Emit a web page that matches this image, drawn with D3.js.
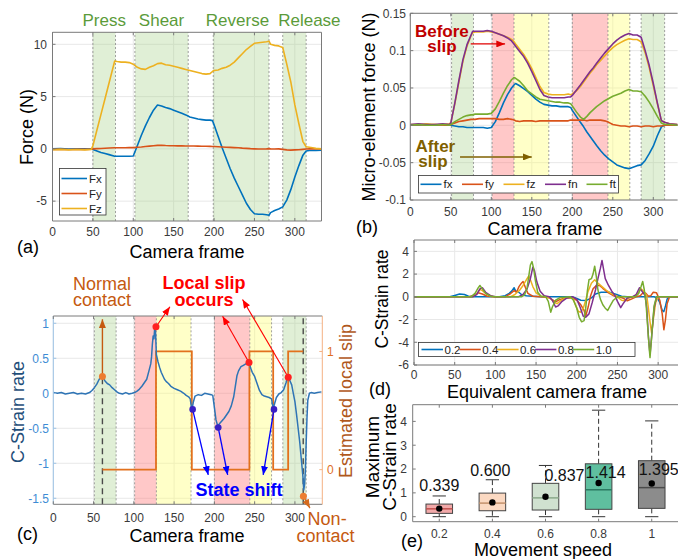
<!DOCTYPE html>
<html><head><meta charset="utf-8">
<script src="https://cdn.jsdelivr.net/npm/d3@7"></script>
<style>body{margin:0;background:#fff;}svg{display:block;}</style>
</head><body>
<script>
// ================= DATA =================
// (a) force sensor
const phaseLabels = ["Press","Shear","Reverse","Release"];
const phaseLabelFrames = [64,135,229,318];
const aBands = [[50,78],[102,168],[199,268],[285,314]];
const aFrames = [0,10,20,30,40,48,50,55,60,65,70,77,80,85,90,95,100,105,110,115,120,125,130,135,140,145,150,155,160,165,170,175,180,185,190,195,198,200,205,210,215,220,225,230,235,240,245,250,255,260,265,268,270,275,280,285,290,295,300,305,310,314,318,322,326,333];
const aFx = [0,0.02,-0.02,0,0.01,0,-0.05,-0.2,-0.35,-0.45,-0.55,-0.7,-0.7,-0.7,-0.7,-0.7,-0.68,0.3,1.3,2.2,3.0,3.7,4.2,4.1,3.95,3.85,3.7,3.55,3.4,3.25,3.05,2.95,2.85,2.8,2.75,2.75,2.7,2.3,1.2,0.1,-0.9,-1.9,-2.8,-3.6,-4.4,-5.2,-5.8,-6.2,-6.25,-6.25,-6.3,-6.35,-6.1,-5.9,-5.75,-5.55,-4.9,-3.9,-2.7,-1.6,-0.6,-0.2,-0.15,-0.15,-0.15,-0.12];
const aFy = [-0.05,-0.03,-0.06,-0.04,-0.05,-0.03,0,0.02,0.04,0.06,0.08,0.1,0.1,0.1,0.11,0.12,0.12,0.15,0.18,0.22,0.26,0.3,0.33,0.35,0.32,0.3,0.3,0.29,0.3,0.28,0.28,0.27,0.26,0.25,0.25,0.24,0.22,0.22,0.2,0.18,0.16,0.14,0.12,0.1,0.07,0.05,0.02,0,-0.02,-0.02,0,0.02,0,-0.02,0,-0.05,-0.1,-0.12,-0.1,-0.08,-0.05,-0.02,0,0,0,0];
const aFz = [-0.08,-0.05,-0.1,-0.06,-0.1,-0.05,0.3,1.8,3.3,4.8,6.3,8.4,8.35,8.3,8.3,8.25,8.1,7.8,7.65,7.6,7.8,7.95,8.15,8.2,8.05,8.0,7.9,7.8,7.7,7.6,7.5,7.4,7.3,7.2,7.15,7.2,7.4,7.5,7.55,7.7,7.8,8.0,8.3,8.7,9.1,9.5,9.8,10.1,10.15,10.2,10.25,10.3,10.0,9.9,9.85,9.7,8.1,6.4,4.2,2.4,0.7,0.2,0.15,0.1,0.05,0.0];

// contact-state bands shared by (b) and (c)
const stateBands = [[51,78,"press"],[101,128,"slip"],[128,171,"stick"],[200,244,"slip"],[244,271,"stick"],[285,314,"press"]];

// (b) micro-element force
const bFrames = [0,10,20,30,40,48,50,55,60,65,70,75,77,80,85,90,95,100,105,110,115,120,125,128,130,135,140,145,150,155,160,165,170,175,180,185,190,195,198,200,205,210,214,218,222,226,230,235,240,245,250,255,260,265,270,275,280,285,290,295,300,305,310,314,320,330];
const bFx = [0,0,0.001,0,0,0,0,-0.001,-0.002,-0.002,-0.003,-0.003,-0.003,-0.003,-0.003,-0.003,-0.004,-0.003,0.005,0.017,0.03,0.041,0.05,0.054,0.056,0.053,0.049,0.045,0.04,0.035,0.031,0.028,0.027,0.026,0.026,0.025,0.025,0.025,0.024,0.02,0.012,0.004,-0.002,-0.009,-0.015,-0.021,-0.027,-0.034,-0.04,-0.045,-0.049,-0.053,-0.055,-0.057,-0.058,-0.056,-0.054,-0.053,-0.047,-0.038,-0.028,-0.014,-0.002,0,0,0];
const bFy = [0,0.001,0,0.001,0,0,0.001,0.003,0.005,0.006,0.007,0.008,0.008,0.008,0.009,0.009,0.009,0.009,0.009,0.008,0.008,0.009,0.008,0.007,0.006,0.005,0.006,0.006,0.006,0.005,0.006,0.006,0.006,0.006,0.006,0.006,0.006,0.006,0.007,0.007,0.007,0.007,0.007,0.006,0.007,0.007,0.007,0.007,0.006,0.004,0.001,0,-0.001,-0.001,-0.002,-0.001,-0.001,-0.002,-0.001,-0.001,-0.002,-0.001,-0.001,0,0,0];
const bFz = [0.001,0.001,0.002,0.001,0.001,0.002,0.003,0.029,0.058,0.086,0.106,0.12,0.124,0.125,0.125,0.125,0.126,0.125,0.124,0.122,0.12,0.118,0.115,0.112,0.109,0.102,0.095,0.086,0.076,0.064,0.052,0.044,0.042,0.041,0.041,0.041,0.041,0.042,0.041,0.042,0.046,0.052,0.058,0.064,0.07,0.075,0.081,0.087,0.093,0.099,0.104,0.108,0.111,0.114,0.116,0.115,0.115,0.112,0.097,0.077,0.053,0.029,0.006,0.004,0.002,0.001];
const bFn = [0.001,0.002,0.001,0.001,0.002,0.001,0.003,0.03,0.06,0.088,0.108,0.121,0.126,0.126,0.126,0.126,0.127,0.126,0.124,0.122,0.12,0.117,0.113,0.109,0.106,0.099,0.092,0.083,0.072,0.06,0.048,0.04,0.038,0.037,0.037,0.037,0.037,0.038,0.038,0.04,0.047,0.054,0.06,0.066,0.072,0.077,0.083,0.09,0.097,0.103,0.109,0.114,0.118,0.121,0.123,0.121,0.121,0.118,0.1,0.08,0.056,0.03,0.006,0.004,0.002,0.001];
const bFt = [0,0.001,0,0,0.001,0,0.001,0.005,0.008,0.011,0.013,0.014,0.014,0.015,0.015,0.015,0.015,0.016,0.022,0.032,0.043,0.053,0.061,0.064,0.063,0.059,0.053,0.046,0.042,0.038,0.035,0.034,0.033,0.032,0.031,0.031,0.03,0.03,0.029,0.026,0.018,0.011,0.008,0.012,0.017,0.021,0.025,0.029,0.033,0.036,0.039,0.041,0.043,0.046,0.048,0.046,0.046,0.045,0.039,0.031,0.022,0.012,0.003,0.001,0.001,0];
const bSeriesNames = ["fx","fy","fz","fn","ft"];

// (c) C-strain rate and estimated slip
const cFrames = [0,5,10,15,20,25,30,35,40,45,48,51,54,57,60,62,64,67,70,73,76,79,82,86,90,94,98,101,104,107,110,113,116,119,121,122,123,124,125,126,127,128,130,132,134,136,138,140,143,146,150,154,158,162,165,168,170,172,174,176,180,184,188,192,196,198,200,202,204,206,209,212,215,218,221,224,226,228,230,233,236,239,241,243,245,247,250,253,256,259,262,265,268,271,273,275,277,280,283,286,289,291,293,296,298,300,302,304,306,308,310,311,312,313,314,315,316,318,320,324,328,333];
const cRate = [0.01,0.0,0.01,-0.01,0.0,0.01,-0.01,0.0,-0.01,0.01,0.04,0.08,0.13,0.2,0.24,0.22,0.18,0.14,0.12,0.08,0.05,0.02,0.0,-0.01,0.01,-0.01,0.0,0.01,0.03,0.06,0.1,0.15,0.2,0.33,0.42,0.52,0.7,0.82,0.78,0.95,0.85,0.55,0.45,0.37,0.3,0.25,0.2,0.17,0.14,0.1,0.07,0.05,0.03,0.0,-0.03,-0.05,-0.08,-0.24,-0.12,-0.04,-0.02,-0.03,0.0,-0.01,-0.02,-0.03,-0.2,-0.38,-0.46,-0.44,-0.4,-0.36,-0.31,-0.26,-0.18,-0.05,0.1,0.25,0.32,0.38,0.4,0.42,0.44,0.45,0.36,0.3,0.24,0.14,0.04,-0.02,-0.04,-0.05,-0.06,-0.08,-0.22,-0.14,-0.06,-0.01,0.01,0.05,0.15,0.24,0.2,0.12,0.0,-0.12,-0.3,-0.5,-0.7,-0.95,-1.2,-1.38,-1.3,-1.1,-0.7,-0.35,-0.1,0.0,0.01,0.0,0.01,0.02];
const cSlipFrames = [61,127.5,172,243.5,273,291.6,310.3];
const cSlip = [0,1,0,1,0,1,1];
const cNormalContact = [61,0.238];
const cNonContact = [310.5,-1.47];
const cSlipOnset = [[127.5,0.95],[243,0.44],[291.7,0.23]];
const cStateShift = [[173,-0.23],[204.8,-0.49],[274,-0.23]];

// (d) C-strain rate for five speeds  [frame, value]
const dSpeeds = ["0.2","0.4","0.6","0.8","1.0"];
const d02 = [[0,0],[44,0],[50,0.12],[56,0.25],[62,0.2],[67,0.05],[72,0],[105,0],[112,0.1],[117,0.3],[120,0.5],[123,0.8],[125,0.5],[128,0.45],[132,0.2],[138,0.1],[146,0.05],[155,0],[195,0],[200,-0.15],[205,-0.3],[212,-0.32],[218,-0.1],[223,0.25],[230,0.4],[240,0.4],[247,0.25],[255,0.05],[262,0],[295,0],[299,-0.1],[302,-0.5],[305,-1.2],[307,-1.3],[309,-0.8],[311,-0.2],[314,0],[325,0]];
const d04 = [[0,0],[68,0],[74,0.15],[79,0.35],[84,0.25],[90,0.05],[98,0],[112,0],[118,0.25],[123,0.55],[126,0.4],[129,0.9],[132,1.2],[134,1.35],[137,0.8],[140,0.3],[146,0.05],[155,0],[165,-0.05],[170,-0.25],[174,-0.45],[179,-0.25],[186,-0.1],[195,-0.1],[200,-0.3],[205,-0.7],[209,-1.2],[211,-1.7],[214,-0.9],[217,0.1],[220,0.7],[224,1.0],[228,1.0],[232,0.75],[238,0.4],[245,0.1],[252,0],[258,-0.15],[262,-0.35],[267,-0.2],[273,0],[278,0.1],[282,0.4],[285,0.3],[288,0.05],[291,0.1],[294,0.4],[298,0.35],[302,-0.3],[305,-1.5],[307,-2.9],[309,-2.0],[311,-0.6],[314,0],[325,0]];
const d06 = [[0,0],[72,0],[77,0.25],[81,0.65],[84,0.55],[90,0.2],[97,0],[118,0],[124,0.2],[130,0.6],[134,1.0],[138,1.5],[141,1.85],[143,1.5],[146,0.9],[150,0.35],[156,0.05],[162,0],[168,-0.15],[172,-0.5],[176,-0.6],[181,-0.3],[188,-0.05],[195,-0.1],[199,-0.8],[202,-1.3],[205,-1.35],[208,-1.0],[211,-0.3],[214,0.5],[218,1.2],[222,1.5],[226,1.2],[231,0.9],[236,0.6],[242,0.3],[248,0.1],[255,-0.3],[259,-0.35],[264,-0.1],[270,0],[275,0.3],[279,0.7],[282,0.5],[286,0.1],[288,-1.0],[290,-2.2],[292,-3.2],[294,-2.0],[297,-0.5],[300,0],[325,0]];
const d08 = [[0,0],[72,0],[77,0.2],[81,0.7],[84,0.8],[88,0.4],[94,0.1],[100,0],[128,0],[134,0.2],[139,0.7],[143,1.6],[146,2.6],[148,2.3],[151,1.3],[155,0.5],[160,0.1],[166,0],[170,-0.3],[174,-0.9],[177,-0.8],[182,-0.4],[188,-0.1],[195,0],[200,-0.2],[204,-0.9],[208,-1.7],[211,-1.8],[215,-1.5],[219,-0.5],[223,0.6],[226,1.6],[229,2.5],[231,3.2],[233,2.4],[235,1.6],[239,1.0],[243,0.5],[247,0.1],[250,-0.4],[254,-0.95],[257,-0.6],[262,-0.1],[268,0],[273,0.2],[277,0.8],[280,0.5],[284,0.1],[286,-1.0],[288,-3.5],[290,-5.1],[292,-3.5],[295,-1.0],[298,0],[325,0]];
const d10 = [[0,0],[70,0],[75,0.3],[79,0.8],[81,1.0],[84,0.7],[88,0.3],[94,0.05],[100,0],[132,0],[136,0.2],[139,0.8],[141,1.8],[143,2.8],[145,3.1],[147,2.5],[149,1.5],[152,0.4],[156,0.05],[162,0],[165,-0.4],[168,-1.35],[170,-0.9],[174,-0.3],[180,-0.05],[192,0],[196,-0.3],[200,-1.0],[203,-1.8],[206,-2.2],[209,-2.1],[211,-1.0],[213,0.5],[215,1.5],[218,1.6],[220,2.0],[222,2.7],[224,1.8],[226,0.6],[229,-0.2],[232,-0.7],[235,-1.0],[238,-1.2],[241,-0.8],[245,-0.3],[250,0],[272,0],[276,0.3],[279,0.9],[281,1.35],[283,0.6],[285,-0.5],[287,-2.5],[289,-4.5],[290,-5.35],[292,-3.5],[295,-0.8],[298,0],[325,0]];

// (e) maximum C-strain rate vs movement speed
const eSpeeds = ["0.2","0.4","0.6","0.8","1"];
const eMin  = [0,0,0,0,0];
const eQ1   = [0.14,0.25,0.28,0.31,0.35];
const eMed  = [0.33,0.57,0.79,1.13,1.22];
const eQ3   = [0.53,0.99,1.40,2.22,2.35];
const eMax  = [0.87,1.55,2.15,4.47,4.02];
const eMean = [0.339,0.600,0.837,1.414,1.395];

// ================= DRAWING =================
const FONT = '"Liberation Sans", Arial, Helvetica, sans-serif';
const svg = d3.select("body").append("svg").attr("width",678).attr("height",559)
  .style("font-family",FONT);
const defs = svg.append("defs");
const TICKC = "#3a3a3a", BOXC = "#7a7a7a", GRIDC = "#e8e8e8";
const bandFill = {press:"rgba(160,205,130,0.33)", slip:"rgba(255,110,110,0.38)", stick:"rgba(255,255,110,0.38)"};

function marker(id,color){
  defs.append("marker").attr("id",id).attr("viewBox","0 0 10 8").attr("refX",10).attr("refY",4)
    .attr("markerUnits","userSpaceOnUse").attr("markerWidth",9).attr("markerHeight",7).attr("orient","auto")
    .append("path").attr("d","M0,0L10,4L0,8z").attr("fill",color);
}
marker("mRed","#ff0000"); marker("mBlue","#0000ff"); marker("mOr","#c55a11");
marker("mDR","#e00000"); marker("mOl","#7f6000"); marker("mOr2","#d46a1c");

function clip(id,x,y){
  defs.append("clipPath").attr("id",id).append("rect")
    .attr("x",x.range()[0]).attr("y",y.range()[1])
    .attr("width",x.range()[1]-x.range()[0]).attr("height",y.range()[0]-y.range()[1]);
}
function grid(g,x,y,xt,yt){
  const [xl,xr]=x.range(),[yb,yt0]=y.range();
  g.selectAll(null).data(xt).join("line").attr("x1",d=>x(d)).attr("x2",d=>x(d)).attr("y1",yb).attr("y2",yt0)
    .attr("stroke",GRIDC).attr("stroke-width",1);
  g.selectAll(null).data(yt).join("line").attr("y1",d=>y(d)).attr("y2",d=>y(d)).attr("x1",xl).attr("x2",xr)
    .attr("stroke",GRIDC).attr("stroke-width",1);
}
function bands(g,x,y,list,fillFn){
  const [yb,yt]=y.range();
  list.forEach(b=>{
    g.append("rect").attr("x",x(b[0])).attr("y",yt).attr("width",x(b[1])-x(b[0])).attr("height",yb-yt)
      .attr("fill",fillFn(b));
  });
  const edges = Array.from(new Set(list.flatMap(b=>[b[0],b[1]])));
  g.selectAll(null).data(edges).join("line").attr("x1",d=>x(d)).attr("x2",d=>x(d)).attr("y1",yb).attr("y2",yt)
    .attr("stroke","#8a8a8a").attr("stroke-width",0.8).attr("stroke-dasharray","2,2");
}
function series(g,x,y,fr,vals,color,w,clipId){
  const pts = fr.map((f,i)=>[f,vals[i]]);
  return g.append("path").datum(pts).attr("d",d3.line().x(d=>x(d[0])).y(d=>y(d[1])))
    .attr("fill","none").attr("stroke",color).attr("stroke-width",w).attr("stroke-linejoin","round")
    .attr("clip-path",clipId?`url(#${clipId})`:null);
}
function pairSeries(g,x,y,pts,color,w,clipId){
  return g.append("path").datum(pts).attr("d",d3.line().x(d=>x(d[0])).y(d=>y(d[1])))
    .attr("fill","none").attr("stroke",color).attr("stroke-width",w).attr("stroke-linejoin","round")
    .attr("clip-path",clipId?`url(#${clipId})`:null);
}
function boxFrame(g,x,y,opt){
  opt = opt||{};
  const [xl,xr]=x.range(),[yb,yt]=y.range();
  g.append("line").attr("x1",xl).attr("x2",xr).attr("y1",yb).attr("y2",yb).attr("stroke",opt.bottom||BOXC);
  g.append("line").attr("x1",xl).attr("x2",xr).attr("y1",yt).attr("y2",yt).attr("stroke",opt.top||BOXC);
  g.append("line").attr("x1",xl).attr("x2",xl).attr("y1",yb).attr("y2",yt).attr("stroke",opt.left||BOXC);
  if(!opt.noRight) g.append("line").attr("x1",xr).attr("x2",xr).attr("y1",yb).attr("y2",yt).attr("stroke",opt.right||BOXC);
}
function xTickMarks(g,x,y,ticks,color){
  const [yb,yt]=y.range();
  g.selectAll(null).data(ticks).join("line").attr("x1",d=>x(d)).attr("x2",d=>x(d)).attr("y1",yb).attr("y2",yb-3).attr("stroke",color||BOXC);
  g.selectAll(null).data(ticks).join("line").attr("x1",d=>x(d)).attr("x2",d=>x(d)).attr("y1",yt).attr("y2",yt+3).attr("stroke",color||BOXC);
}
function yTickMarks(g,x,y,ticks,color,side){
  const xl = side==="right"? x.range()[1] : x.range()[0];
  const s = side==="right"? -3 : 3;
  g.selectAll(null).data(ticks).join("line").attr("y1",d=>y(d)).attr("y2",d=>y(d)).attr("x1",xl).attr("x2",xl+s).attr("stroke",color||BOXC);
}
function xTickLabels(g,x,ticks,yBase,fmt,color,size){
  g.selectAll(null).data(ticks).join("text").attr("x",d=>x(d)).attr("y",yBase).attr("text-anchor","middle")
    .attr("font-size",size||12).attr("fill",color||TICKC).text(d=>fmt?fmt(d):d);
}
function yTickLabels(g,y,ticks,xPos,fmt,color,anchor,size){
  g.selectAll(null).data(ticks).join("text").attr("x",xPos).attr("y",d=>y(d)).attr("dy","0.36em")
    .attr("text-anchor",anchor||"end").attr("font-size",size||12).attr("fill",color||TICKC).text(d=>fmt?fmt(d):d);
}
function text(g,x,y,t,size,color,anchor,weight){
  return g.append("text").attr("x",x).attr("y",y).attr("font-size",size).attr("fill",color||"#000")
    .attr("text-anchor",anchor||"middle").attr("font-weight",weight||"normal").text(t);
}
// two-line label as one text element
function text2(g,lines,size,color,weight){
  const t = g.append("text").attr("font-size",size).attr("fill",color).attr("text-anchor","middle")
    .attr("font-weight",weight||"normal");
  lines.forEach(l=>t.append("tspan").attr("x",l[0]).attr("y",l[1]).text(l[2]));
  return t;
}
function rotText(g,x,y,t,size,color){
  return g.append("text").attr("transform",`translate(${x},${y}) rotate(-90)`).attr("text-anchor","middle")
    .attr("font-size",size).attr("fill",color||"#000").text(t);
}
function arrow(g,x1,y1,x2,y2,color,mk,w){
  g.append("line").attr("x1",x1).attr("y1",y1).attr("x2",x2).attr("y2",y2).attr("stroke",color)
    .attr("stroke-width",w||1.2).attr("marker-end",`url(#${mk})`);
}
const fr50 = [0,50,100,150,200,250,300];
const numFmt = d => String(+d.toFixed(3));

// ---------- (a) ----------
{
  const x = d3.scaleLinear([0,333],[52.5,321.5]);
  const y = d3.scaleLinear([-6.9,11.15],[221,32.3]);
  const g = svg.append("g"); clip("clipA",x,y);
  grid(g,x,y,fr50,[-5,0,5,10]);
  bands(g,x,y,aBands,()=>bandFill.press);
  series(g,x,y,aFrames,aFx,"#0072BD",1.6,"clipA");
  series(g,x,y,aFrames,aFy,"#D95319",1.6,"clipA");
  series(g,x,y,aFrames,aFz,"#EDB120",1.6,"clipA");
  boxFrame(g,x,y);
  xTickMarks(g,x,y,fr50); yTickMarks(g,x,y,[-5,0,5,10]);
  xTickLabels(g,x,fr50,236);
  yTickLabels(g,y,[-5,0,5,10],47);
  text(g,187,258,"Camera frame",18);
  rotText(g,33,127,"Force (N)",18);
  text(g,17,253,"(a)",18,"#000","start");
  phaseLabels.forEach((p,i)=>text(g,x(phaseLabelFrames[i]),26,p,17,"#5b9b3a"));
  const L = g.append("g");
  L.append("rect").attr("x",59.5).attr("y",168.5).attr("width",46.5).attr("height",46.5).attr("fill","#fff").attr("stroke","#333").attr("stroke-width",0.8);
  [["Fx","#0072BD"],["Fy","#D95319"],["Fz","#EDB120"]].forEach((d,i)=>{
    const yy = 178.5 + i*15;
    L.append("line").attr("x1",61.5).attr("x2",87).attr("y1",yy).attr("y2",yy).attr("stroke",d[1]).attr("stroke-width",1.6);
    text(L,89,yy+4,d[0],11.5,"#222","start");
  });
}

// ---------- (b) ----------
{
  const x = d3.scaleLinear([0,330],[410.3,677.6]);
  const y = d3.scaleLinear([-0.1,0.15],[200,13.3]);
  const g = svg.append("g"); clip("clipB",x,y);
  const yt = [-0.1,-0.05,0,0.05,0.1,0.15];
  grid(g,x,y,fr50,yt);
  bands(g,x,y,stateBands,b=>bandFill[b[2]]);
  const cols = ["#0072BD","#D95319","#EDB120","#7E2F8E","#77AC30"];
  [bFx,bFy,bFz,bFn,bFt].forEach((s,i)=>series(g,x,y,bFrames,s,cols[i],1.6,"clipB"));
  boxFrame(g,x,y,{noRight:true});
  xTickMarks(g,x,y,fr50); yTickMarks(g,x,y,yt);
  xTickLabels(g,x,fr50,216);
  yTickLabels(g,y,yt,406,numFmt);
  text(g,545,235,"Camera frame",18);
  rotText(g,375,107,"Micro-element force (N)",18);
  text(g,356,233,"(b)",18,"#000","start");
  text2(g,[[x(39),y(0.1185),"Before"],[x(39),y(0.0985),"slip"]],17,"#c00000","bold");
  arrow(g,x(74.6),y(0.109),x(117),y(0.109),"#e00000","mDR",1.3);
  text2(g,[[x(31),y(-0.0355),"After"],[x(28),y(-0.0555),"slip"]],17,"#7f6000","bold");
  arrow(g,x(61.4),y(-0.0424),x(149.9),y(-0.0424),"#7f6000","mOl",1.3);
  const L = g.append("g");
  L.append("rect").attr("x",418.5).attr("y",175.5).attr("width",200).attr("height",17.5).attr("fill","#fff").attr("stroke","#333").attr("stroke-width",0.8);
  bSeriesNames.forEach((n,i)=>{
    const x0 = 420.5 + i*41.5, yy = 184.3;
    L.append("line").attr("x1",x0).attr("x2",x0+21).attr("y1",yy).attr("y2",yy).attr("stroke",cols[i]).attr("stroke-width",1.6);
    text(L,x0+23,yy+4,n,11.5,"#222","start");
  });
}

// ---------- (c) ----------
{
  const x = d3.scaleLinear([0,334],[53.3,322.3]);
  const y = d3.scaleLinear([-1.586,1.104],[504.3,316]);
  const yr = d3.scaleLinear([-0.293,1.30],[504.3,316]);
  const g = svg.append("g"); clip("clipC",x,y);
  const yt = [-1.5,-1,-0.5,0,0.5,1];
  grid(g,x,y,fr50,yt);
  bands(g,x,y,stateBands,b=>bandFill[b[2]]);
  g.append("line").attr("x1",x(cNormalContact[0])).attr("x2",x(cNormalContact[0])).attr("y1",y(-1.586)).attr("y2",y(cNormalContact[1]))
    .attr("stroke","#4a4a4a").attr("stroke-width",1.4).attr("stroke-dasharray","6,4");
  g.append("line").attr("x1",x(cSlipFrames[cSlipFrames.length-1])).attr("x2",x(cSlipFrames[cSlipFrames.length-1])).attr("y1",y(-1.586)).attr("y2",y(1.104))
    .attr("stroke","#4a4a4a").attr("stroke-width",1.4).attr("stroke-dasharray","6,4");
  g.append("path").datum(cSlipFrames.map((f,i)=>[f,cSlip[i]]))
    .attr("d",d3.line().curve(d3.curveStepAfter).x(d=>x(d[0])).y(d=>yr(d[1])))
    .attr("fill","none").attr("stroke","#e2711d").attr("stroke-width",1.8);
  series(g,x,y,cFrames,cRate,"#2e74b5",1.5,"clipC");
  boxFrame(g,x,y,{left:"#9dc3e6",right:"#f4b183"});
  xTickMarks(g,x,y,fr50);
  yTickMarks(g,x,y,yt,"#9dc3e6");
  yTickMarks(g,x,yr,[0,1],"#f4b183","right");
  xTickLabels(g,x,fr50,522);
  yTickLabels(g,y,yt,49,null,"#3d8bd4");
  yTickLabels(g,yr,[0,1],327,null,"#e0701f","start");
  text(g,187,542,"Camera frame",18);
  rotText(g,24,412,"C-Strain rate",18,"#1f4e79");
  rotText(g,352,401,"Estimated local slip",18,"#b0581c");
  text(g,17,540,"(c)",18,"#000","start");
  arrow(g,x(cNormalContact[0]),y(cNormalContact[1]),x(cNormalContact[0]),y(1.057),"#c55a11","mOr",1.4);
  g.append("circle").attr("cx",x(cNormalContact[0])).attr("cy",y(cNormalContact[1])).attr("r",3.5).attr("fill","#ed7d31");
  text2(g,[[x(60.5),y(1.47),"Normal"],[x(60.5),y(1.24),"contact"]],18,"#c55a11");
  const tips = [[144.8,1.237],[210.2,1.10],[235,1.34]];
  cSlipOnset.forEach((p,i)=>{
    arrow(g,x(p[0]),y(p[1]),x(tips[i][0]),y(tips[i][1]),"#ff0000","mRed",1.1);
    g.append("circle").attr("cx",x(p[0])).attr("cy",y(p[1])).attr("r",3.5).attr("fill","#ff2020");
  });
  text2(g,[[x(187),y(1.485),"Local slip"],[x(187),y(1.24),"occurs"]],18,"#ff0000","bold");
  const btips = [[192.4,-1.167],[216.5,-1.167],[260.6,-1.167]];
  cStateShift.forEach((p,i)=>{
    arrow(g,x(p[0]),y(p[1]),x(btips[i][0]),y(btips[i][1]),"#0000ff","mBlue",1.3);
    g.append("circle").attr("cx",x(p[0])).attr("cy",y(p[1])).attr("r",3.3).attr("fill","#3a1fc4");
  });
  text(g,x(230.5),y(-1.467),"State shift",18,"#0000ff","middle","bold");
  arrow(g,x(cNonContact[0]),y(cNonContact[1]),x(318.6),y(-1.64),"#d46a1c","mOr2",1.3);
  g.append("circle").attr("cx",x(cNonContact[0])).attr("cy",y(cNonContact[1])).attr("r",3.5).attr("fill","#ed7d31");
  text2(g,[[x(340),y(-1.88),"Non-"],[x(338),y(-2.12),"contact"]],18,"#c55a11");
}

// ---------- (d) ----------
{
  const x = d3.scaleLinear([0,325],[414,678.5]);
  const y = d3.scaleLinear([-6,5],[365,240]);
  const g = svg.append("g"); clip("clipD",x,y);
  const yt = [-6,-4,-2,0,2,4];
  grid(g,x,y,fr50,yt);
  const cols = ["#0072BD","#D95319","#EDB120","#7E2F8E","#77AC30"];
  [d02,d04,d06,d08,d10].forEach((s,i)=>pairSeries(g,x,y,s,cols[i],1.5,"clipD"));
  boxFrame(g,x,y,{noRight:true});
  xTickMarks(g,x,y,fr50); yTickMarks(g,x,y,yt);
  xTickLabels(g,x,fr50,379);
  yTickLabels(g,y,yt,409);
  text(g,547,398,"Equivalent camera frame",18);
  rotText(g,388,299,"C-Strain rate",17.5);
  text(g,369,395,"(d)",18,"#000","start");
  const L = g.append("g");
  L.append("rect").attr("x",418.5).attr("y",342.5).attr("width",216.5).attr("height",14).attr("fill","#fff").attr("stroke","#333").attr("stroke-width",0.8);
  dSpeeds.forEach((n,i)=>{
    const x0 = 421.5 + i*37.8, yy = 349.5;
    L.append("line").attr("x1",x0).attr("x2",x0+21.5).attr("y1",yy).attr("y2",yy).attr("stroke",cols[i]).attr("stroke-width",1.6);
    text(L,x0+23,yy+4,n,11.5,"#222","start");
  });
}

// ---------- (e) ----------
{
  const x = d3.scalePoint(eSpeeds,[412.7,678.3]).padding(0.5);
  const y = d3.scaleLinear([-0.21,4.7],[521.7,404.7]);
  const g = svg.append("g");
  const fills = ["#f2a9a9","#fbd9c2","#d0e1d0","#5fbf9f","#8c8c8c"];
  const meds  = ["#c0504d","#c3916c","#8aa88a","#2c7b62","#4a4a4a"];
  const bw = x.step()*0.5;
  eSpeeds.forEach((s,i)=>{
    const cx = x(s);
    g.append("line").attr("x1",cx).attr("x2",cx).attr("y1",y(eQ3[i])).attr("y2",y(eMax[i])).attr("stroke","#333").attr("stroke-width",1).attr("stroke-dasharray","5,3");
    g.append("line").attr("x1",cx).attr("x2",cx).attr("y1",y(eQ1[i])).attr("y2",y(eMin[i])).attr("stroke","#333").attr("stroke-width",1).attr("stroke-dasharray","5,3");
    [eMax[i],eMin[i]].forEach(v=>g.append("line").attr("x1",cx-bw/4).attr("x2",cx+bw/4).attr("y1",y(v)).attr("y2",y(v)).attr("stroke","#333").attr("stroke-width",1));
    g.append("rect").attr("x",cx-bw/2).attr("y",y(eQ3[i])).attr("width",bw).attr("height",y(eQ1[i])-y(eQ3[i]))
      .attr("fill",fills[i]).attr("stroke","#444").attr("stroke-width",1);
    g.append("line").attr("x1",cx-bw/2).attr("x2",cx+bw/2).attr("y1",y(eMed[i])).attr("y2",y(eMed[i])).attr("stroke",meds[i]).attr("stroke-width",1.5);
    g.append("circle").attr("cx",cx).attr("cy",y(eMean[i])).attr("r",3.2).attr("fill","#000");
  });
  const labY = [1.09,1.71,1.5,1.61,1.74], labDx = [0,-2,19,7,7];
  eSpeeds.forEach((s,i)=>text(g,x(s)+labDx[i],y(labY[i]),d3.format(".3f")(eMean[i]),16,"#111"));
  const [yb,yt] = y.range();
  g.append("line").attr("x1",412.7).attr("x2",678.3).attr("y1",yb).attr("y2",yb).attr("stroke",BOXC);
  g.append("line").attr("x1",412.7).attr("x2",678.3).attr("y1",yt).attr("y2",yt).attr("stroke",BOXC);
  g.append("line").attr("x1",412.7).attr("x2",412.7).attr("y1",yb).attr("y2",yt).attr("stroke",BOXC);
  g.selectAll(null).data(eSpeeds).join("line").attr("x1",d=>x(d)).attr("x2",d=>x(d)).attr("y1",yb).attr("y2",yb-3).attr("stroke",BOXC);
  g.selectAll(null).data(eSpeeds).join("line").attr("x1",d=>x(d)).attr("x2",d=>x(d)).attr("y1",yt).attr("y2",yt+3).attr("stroke",BOXC);
  const yt2=[0,1,2,3,4];
  g.selectAll(null).data(yt2).join("line").attr("x1",412.7).attr("x2",415.7).attr("y1",d=>y(d)).attr("y2",d=>y(d)).attr("stroke",BOXC);
  g.selectAll(null).data(eSpeeds).join("text").attr("x",d=>x(d)).attr("y",538).attr("text-anchor","middle").attr("font-size",12).attr("fill",TICKC).text(d=>d);
  yTickLabels(g,y,yt2,407);
  text(g,543,556,"Movement speed",18);
  rotText(g,379,457,"Maximum",19);
  rotText(g,396,457,"C-Strain rate",19);
  text(g,401,547,"(e)",18,"#000","start");
}
</script>
</body></html>
